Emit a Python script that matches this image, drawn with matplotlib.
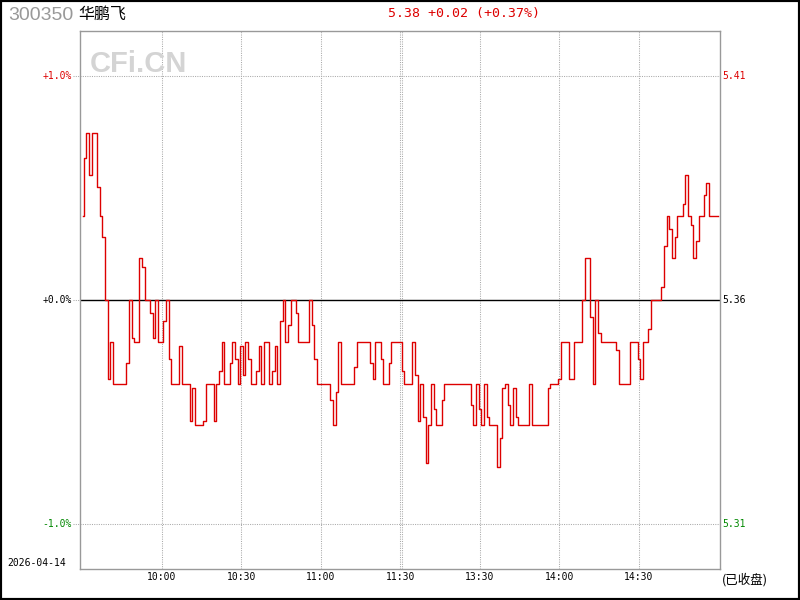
import numpy as np
import matplotlib
matplotlib.use("Agg")
import matplotlib.pyplot as plt
from matplotlib.patches import Rectangle
import matplotlib.transforms as mtransforms

# ---------------- data ----------------
code = "300350"
name = "华鹏飞"
date_label = "2026-04-14"
status_label = "(已收盘)"
prev_close = 5.36

prices = [
    5.380, 5.394, 5.400, 5.390, 5.400, 5.400, 5.387, 5.380, 5.375, 5.360,
    5.341, 5.350, 5.340, 5.340, 5.340, 5.340, 5.340, 5.345, 5.360, 5.351,
    5.350, 5.350, 5.370, 5.368, 5.360, 5.360, 5.357, 5.351, 5.360, 5.350,
    5.350, 5.355, 5.360, 5.346, 5.340, 5.340, 5.340, 5.349, 5.340, 5.340,
    5.340, 5.331, 5.339, 5.330, 5.330, 5.330, 5.331, 5.340, 5.340, 5.340,
    5.331, 5.340, 5.343, 5.350, 5.340, 5.340, 5.345, 5.350, 5.346, 5.340,
    5.349, 5.342, 5.350, 5.346, 5.340, 5.340, 5.343, 5.349, 5.340, 5.350,
    5.350, 5.340, 5.343, 5.349, 5.340, 5.355, 5.360, 5.350, 5.354, 5.360,
    5.360, 5.357, 5.350, 5.350, 5.350, 5.350, 5.360, 5.354, 5.346, 5.340,
    5.340, 5.340, 5.340, 5.340, 5.336, 5.330, 5.338, 5.350, 5.340, 5.340,
    5.340, 5.340, 5.340, 5.344, 5.350, 5.350, 5.350, 5.350, 5.350, 5.345,
    5.341, 5.350, 5.350, 5.346, 5.340, 5.340, 5.345, 5.350, 5.350, 5.350,
    5.350, 5.343, 5.340, 5.340, 5.340, 5.350, 5.342, 5.331, 5.340, 5.332,
    5.321, 5.330, 5.340, 5.334, 5.330, 5.330, 5.336, 5.340, 5.340, 5.340,
    5.340, 5.340, 5.340, 5.340, 5.340, 5.340, 5.340, 5.335, 5.330, 5.340,
    5.334, 5.330, 5.340, 5.332, 5.330, 5.330, 5.330, 5.320, 5.327, 5.339,
    5.340, 5.335, 5.330, 5.339, 5.332, 5.330, 5.330, 5.330, 5.330, 5.340,
    5.330, 5.330, 5.330, 5.330, 5.330, 5.330, 5.339, 5.340, 5.340, 5.340,
    5.341, 5.350, 5.350, 5.350, 5.341, 5.341, 5.350, 5.350, 5.350, 5.360,
    5.370, 5.370, 5.356, 5.340, 5.360, 5.352, 5.350, 5.350, 5.350, 5.350,
    5.350, 5.350, 5.348, 5.340, 5.340, 5.340, 5.340, 5.350, 5.350, 5.350,
    5.346, 5.341, 5.350, 5.350, 5.353, 5.360, 5.360, 5.360, 5.360, 5.363,
    5.373, 5.380, 5.377, 5.370, 5.375, 5.380, 5.380, 5.383, 5.390, 5.380,
    5.378, 5.370, 5.374, 5.380, 5.380, 5.385, 5.388, 5.380, 5.380, 5.380,
    5.380,
]

tick_minutes = [30, 60, 90, 120, 150, 180, 210]
tick_labels = ["10:00", "10:30", "11:00", "11:30", "13:30", "14:00", "14:30"]
grid_minutes = [30, 60, 90, 120, 150, 180, 210]
pct_levels = [1.0, 0.0, -1.0]
pct_labels = ["+1.0%", "+0.0%", "-1.0%"]
level_colors = ["#dd0000", "#000000", "#008800"]

# ---------------- figure ----------------
W, H = 800, 600
fig = plt.figure(figsize=(8, 6), dpi=100, facecolor="white")
L, R, T, B = 80, 720, 31, 569
ax = fig.add_axes([L / W, 1 - B / H, (R - L) / W, (B - T) / H])
ax.set_facecolor("white")

x = np.arange(len(prices))
ax.set_xlim(-0.95, 240.6)
ax.set_ylim(prev_close * (1 - 0.012), prev_close * (1 + 0.012))

mono = "DejaVu Sans Mono"
cjk = ["Noto Sans CJK SC", "DejaVu Sans"]
grid_kw = dict(color="#aaaaaa", lw=0.75, ls=(0, (1, 1.2)))

for m in grid_minutes:
    ax.axvline(m, **grid_kw, zorder=1)
ax.axvline(120.4, **grid_kw, zorder=1)

blend_l = mtransforms.blended_transform_factory(ax.transAxes, ax.transData)
for p, lab, c in zip(pct_levels, pct_labels, level_colors):
    yv = prev_close * (1 + p / 100)
    if p != 0:
        ax.axhline(yv, **grid_kw, zorder=1)
    ax.plot([-7 / 640, 0], [yv, yv], transform=blend_l, clip_on=False, **grid_kw)
    ax.text(-8.5 / 640, yv, lab, transform=blend_l, ha="right", va="center",
            color=c, fontsize=7, family=mono)
    ax.text(1 + 2 / 640, yv, f"{yv:.2f}", transform=blend_l, ha="left",
            va="center", color=c, fontsize=7, family=mono)

ax.axhline(prev_close, color="black", lw=1.0, zorder=2)
ax.plot(x, prices, color="#dd0000", lw=1.0, zorder=3, drawstyle="steps-mid")

for s in ax.spines.values():
    s.set_color("#999999")
    s.set_linewidth(1.0)
ax.set_xticks([])
ax.set_yticks([])

blend_b = mtransforms.blended_transform_factory(ax.transData, ax.transAxes)
for m, lab in zip(tick_minutes, tick_labels):
    ax.text(m, -8 / 538, lab, transform=blend_b, ha="center", va="center",
            fontsize=7, family=mono, color="black")

# header texts
last = prices[-1]
chg = last - prev_close
pct = chg / prev_close * 100
fig.text(8 / W, 1 - 16 / H, code, ha="left", va="center", fontsize=14,
         color="#999999", family="Liberation Sans")
fig.text(78 / W, 1 - 14 / H, name, ha="left", va="center", fontsize=11.5,
         color="black", family=cjk)
fig.text(464 / W, 1 - 14 / H, f"{last:.2f} {chg:+.2f} ({pct:+.2f}%)",
         ha="center", va="center", fontsize=9.5, color="#dd0000", family=mono)
fig.text(90 / W, 1 - 64 / H, "CFi.CN", ha="left", va="center", fontsize=21,
         color="#d4d4d4", family="Liberation Sans", fontweight="bold")
fig.text(7 / W, 1 - 563 / H, date_label, ha="left", va="center", fontsize=7,
         family=mono, color="black")
fig.text(722 / W, 1 - 580 / H, status_label, ha="left", va="center",
         fontsize=9, family=cjk, color="black")

fig.patches.append(Rectangle((0, 0), 1, 1, transform=fig.transFigure,
                             fill=False, edgecolor="black", lw=3))

fig.savefig("out.png", dpi=100, facecolor="white")
